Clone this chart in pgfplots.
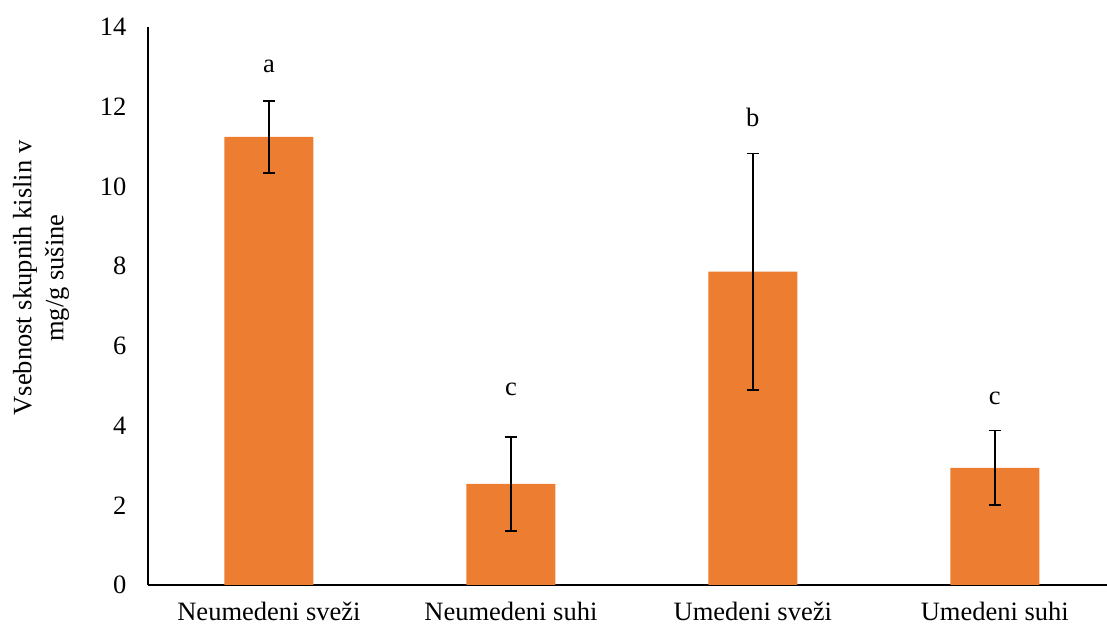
\documentclass[border=0pt]{standalone}
\usepackage{fontspec}
\setmainfont{Liberation Serif}
\usepackage{pgfplots}
\pgfplotsset{compat=1.18}
\definecolor{barorange}{HTML}{ED7D31}

\begin{document}
\begin{tikzpicture}
\useasboundingbox (-148pt,-43pt) rectangle (959pt,585pt);
\begin{axis}[
  at={(0pt,0pt)}, anchor=south west,
  scale only axis,
  width=959pt, height=558pt,
  xmin=-0.5, xmax=3.464,
  ymin=0, ymax=14,
  ytick={0,2,...,14},
  xtick={0,1,2,3},
  xticklabels={Neumedeni sveži, Neumedeni suhi, Umedeni sveži, Umedeni suhi},
  axis x line*=bottom,
  axis y line*=left,
  axis line style={line width=1.4pt, black},
  major tick length=0pt,
  tick label style={font=\fontsize{26.5}{31}\selectfont},
  /pgf/number format/assume math mode=true,
  yticklabel style={xshift=-18pt},
  xticklabel style={yshift=-14pt},
  clip=false,
]
\addplot[
  ybar, bar width=89pt, fill=barorange, draw=none,
  error bars/.cd,
    y dir=both, y explicit,
    error bar style={line width=1.5pt, black},
    error mark options={rotate=90, mark size=6pt, line width=1.5pt, black},
] table[x=x, y=y, y error=e] {
x y e
0 11.24 0.905
1 2.535 1.18
2 7.86 2.97
3 2.94 0.93
};
\node[font=\fontsize{26.5}{31}\selectfont] at (axis cs:0,13.0) {a};
\node[font=\fontsize{26.5}{31}\selectfont] at (axis cs:1,4.92) {c};
\node[font=\fontsize{26.5}{31}\selectfont] at (axis cs:2,11.72) {b};
\node[font=\fontsize{26.5}{31}\selectfont] at (axis cs:3,4.69) {c};
\end{axis}
\node[rotate=90, align=center, font=\fontsize{26.5}{32}\selectfont]
  at (-107pt,307pt) {Vsebnost skupnih kislin v\\mg/g sušine};
\end{tikzpicture}
\end{document}
